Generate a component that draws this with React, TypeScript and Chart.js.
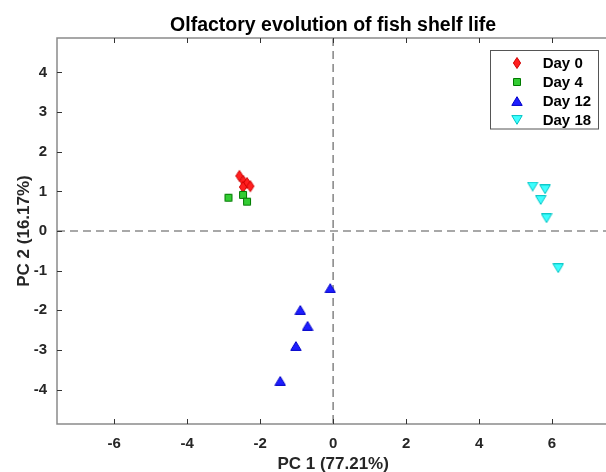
import { useEffect, useRef } from "react";
import { Chart, registerables } from "chart.js";

Chart.register(...registerables);

// ---------- data ----------
const seriesLabels = ["Day 0", "Day 4", "Day 12", "Day 18"];

const day0X = [-2.57, -2.46, -2.36, -2.27, -2.47];
const day0Y = [1.39, 1.26, 1.21, 1.13, 1.11];

const day4X = [-2.87, -2.47, -2.36];
const day4Y = [0.84, 0.91, 0.74];

const day12X = [-0.08, -0.9, -0.7, -1.02, -1.45];
const day12Y = [-1.44, -1.99, -2.39, -2.9, -3.78];

const day18X = [5.47, 5.81, 5.69, 5.85, 6.17];
const day18Y = [1.12, 1.05, 0.78, 0.32, -0.94];

const xTickValues = [-6, -4, -2, 0, 2, 4, 6];
const yTickValues = [-4, -3, -2, -1, 0, 1, 2, 3, 4];
const xMin = -7.57;
const xMax = 7.48;
const yMin = -4.87;
const yMax = 4.87;

const chartTitle = "Olfactory evolution of fish shelf life";
const xAxisTitle = "PC 1 (77.21%)";
const yAxisTitle = "PC 2 (16.17%)";

const FONT = "'Liberation Sans', Arial, Helvetica, sans-serif";

// ---------- marker images ----------
type Kind = "diamond" | "square" | "up" | "down";
function makeMarker(kind: Kind, fill: string, stroke: string): HTMLCanvasElement {
  const c = document.createElement("canvas");
  let w = 10, h = 10;
  if (kind === "diamond") { w = 10; h = 14; }
  if (kind === "up" || kind === "down") { w = 12; h = 10; }
  c.width = w; c.height = h;
  const ctx = c.getContext("2d")!;
  ctx.beginPath();
  if (kind === "diamond") {
    ctx.moveTo(5, 1.5); ctx.lineTo(8.6, 7); ctx.lineTo(5, 12.5); ctx.lineTo(1.4, 7);
  } else if (kind === "square") {
    ctx.rect(1.5, 1.5, 7, 7);
  } else if (kind === "up") {
    ctx.moveTo(6, 0.7); ctx.lineTo(11.2, 9.4); ctx.lineTo(0.8, 9.4);
  } else {
    ctx.moveTo(0.8, 0.6); ctx.lineTo(11.2, 0.6); ctx.lineTo(6, 9.3);
  }
  ctx.closePath();
  ctx.fillStyle = fill;
  ctx.fill();
  ctx.strokeStyle = stroke;
  ctx.lineWidth = 1;
  ctx.stroke();
  return c;
}

export default function App() {
  const ref = useRef<HTMLCanvasElement | null>(null);

  useEffect(() => {
    const canvas = ref.current;
    if (!canvas) return;

    const markers = [
      makeMarker("diamond", "#FF1F1F", "#D00000"),
      makeMarker("square", "#33CC33", "#007A00"),
      makeMarker("up", "#1E1EFF", "#0000C8"),
      makeMarker("down", "#3DFFFF", "#00C4C4"),
    ];

    const xs = [day0X, day4X, day12X, day18X];
    const ys = [day0Y, day4Y, day12Y, day18Y];

    const datasets = seriesLabels.map((label, i) => ({
      label,
      data: xs[i].map((x, j) => ({ x, y: ys[i][j] })),
      pointStyle: markers[i] as any,
      pointRadius: 5,
      pointHoverRadius: 5,
      order: seriesLabels.length - 1 - i,
    }));

    const decor = {
      id: "decor",
      beforeDatasetsDraw(chart: any) {
        const { ctx, chartArea } = chart;
        const x0 = chart.scales.x.getPixelForValue(0);
        const y0 = chart.scales.y.getPixelForValue(0);
        ctx.save();
        ctx.strokeStyle = "#8c8c8c";
        ctx.lineWidth = 1.6;
        ctx.setLineDash([8, 5]);
        ctx.beginPath();
        ctx.moveTo(x0, chartArea.top);
        ctx.lineTo(x0, chartArea.bottom);
        ctx.moveTo(chartArea.left, y0);
        ctx.lineTo(chartArea.right, y0);
        ctx.stroke();
        ctx.restore();
      },
      afterDatasetsDraw(chart: any) {
        const { ctx, chartArea } = chart;
        const sx = chart.scales.x;
        const sy = chart.scales.y;
        ctx.save();
        // frame
        ctx.strokeStyle = "#8a8a8a";
        ctx.lineWidth = 1.5;
        ctx.beginPath();
        ctx.moveTo(chartArea.right + 2, chartArea.top);
        ctx.lineTo(chartArea.left, chartArea.top);
        ctx.lineTo(chartArea.left, chartArea.bottom);
        ctx.lineTo(chartArea.right + 2, chartArea.bottom);
        ctx.stroke();
        // inward ticks
        ctx.strokeStyle = "#333333";
        ctx.lineWidth = 1;
        ctx.beginPath();
        xTickValues.forEach((v) => {
          const px = Math.round(sx.getPixelForValue(v)) + 0.5;
          ctx.moveTo(px, chartArea.bottom);
          ctx.lineTo(px, chartArea.bottom - 5);
          ctx.moveTo(px, chartArea.top);
          ctx.lineTo(px, chartArea.top + 5);
        });
        yTickValues.forEach((v) => {
          const py = Math.round(sy.getPixelForValue(v)) + 0.5;
          ctx.moveTo(chartArea.left, py);
          ctx.lineTo(chartArea.left + 5, py);
        });
        ctx.stroke();

        // legend
        const bl = chartArea.right - 116;
        const bt = chartArea.top + 11.5;
        const bw = 108;
        const bh = 78.5;
        ctx.fillStyle = "#ffffff";
        ctx.fillRect(bl, bt, bw, bh);
        ctx.strokeStyle = "#555555";
        ctx.lineWidth = 1;
        ctx.strokeRect(Math.round(bl) + 0.5, Math.round(bt) + 0.5, bw, bh);
        ctx.font = `bold 15px ${FONT}`;
        ctx.fillStyle = "#000000";
        ctx.textBaseline = "middle";
        ctx.textAlign = "left";
        seriesLabels.forEach((label, i) => {
          const cy = bt + 13.5 + i * 18.9;
          const m = markers[i];
          ctx.drawImage(m, Math.round(bl + 26.7 - m.width / 2), Math.round(cy - m.height / 2));
          ctx.fillText(label, bl + 52.7, cy + 1);
        });
        ctx.restore();
      },
      afterDraw(chart: any) {
        const { ctx, chartArea } = chart;
        const sx = chart.scales.x;
        const sy = chart.scales.y;
        const cx = sx.getPixelForValue(0);
        ctx.save();
        ctx.fillStyle = "#000000";
        ctx.textAlign = "center";
        ctx.textBaseline = "alphabetic";
        ctx.font = `bold 19.5px ${FONT}`;
        ctx.fillText(chartTitle, cx, chartArea.top - 7.5);
        ctx.fillStyle = "#262626";
        ctx.font = `bold 17px ${FONT}`;
        ctx.fillText(xAxisTitle, cx, chartArea.bottom + 45);
        ctx.translate(chartArea.left - 28.5, sy.getPixelForValue(0));
        ctx.rotate(-Math.PI / 2);
        ctx.fillText(yAxisTitle, 0, 0);
        ctx.restore();
      },
    };

    const chart = new Chart(canvas, {
      type: "scatter",
      data: { datasets: datasets as any },
      options: {
        responsive: false,
        animation: false,
        events: [],
        layout: { autoPadding: false, padding: { top: 38, left: 0, right: 0, bottom: 0 } },
        plugins: {
          legend: { display: false },
          title: { display: false },
          tooltip: { enabled: false },
        },
        scales: {
          x: {
            type: "linear",
            min: xMin,
            max: xMax,
            afterBuildTicks: (s: any) => {
              s.ticks = xTickValues.map((v) => ({ value: v }));
            },
            afterFit: (s: any) => {
              s.height = 48;
              s.paddingLeft = 0;
              s.paddingRight = 0;
            },
            grid: { display: false, drawTicks: false },
            border: { display: false },
            ticks: {
              padding: 11,
              color: "#262626",
              font: { family: FONT, size: 15, weight: "bold" },
              maxRotation: 0,
              autoSkip: false,
            },
          },
          y: {
            type: "linear",
            min: yMin,
            max: yMax,
            afterBuildTicks: (s: any) => {
              s.ticks = yTickValues.map((v) => ({ value: v }));
            },
            afterFit: (s: any) => {
              s.width = 57;
              s.paddingTop = 0;
              s.paddingBottom = 0;
            },
            grid: { display: false, drawTicks: false },
            border: { display: false },
            ticks: {
              padding: 10,
              color: "#262626",
              font: { family: FONT, size: 15, weight: "bold" },
              autoSkip: false,
            },
          },
        },
      },
      plugins: [decor],
    });

    return () => chart.destroy();
  }, []);

  return (
    <div style={{ position: "fixed", left: 0, top: 0, width: 606, height: 472, background: "#ffffff" }}>
      <canvas ref={ref} width={606} height={472} style={{ display: "block" }} />
    </div>
  );
}
